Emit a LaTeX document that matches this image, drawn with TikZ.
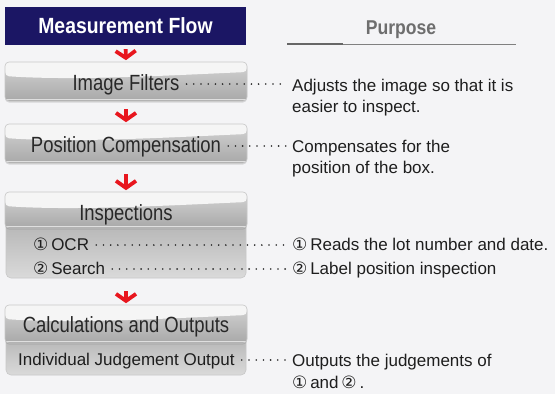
\documentclass[tikz,border=0pt]{standalone}
\usepackage{fontspec}
\setmainfont{Liberation Sans}
\newfontfamily\condfont[FakeStretch=0.84]{Liberation Sans}
\newfontfamily\hdrfont[FakeStretch=0.88]{Liberation Sans}
\newfontfamily\circfont{DejaVu Sans}
\newcommand\circA{{\circfont ①}}
\newcommand\circB{{\circfont ②}}
\usetikzlibrary{arrows.meta,shadows}
\definecolor{hdrblue}{RGB}{27,22,100}
\definecolor{bgcol}{RGB}{244,244,246}
\definecolor{boxtop}{RGB}{212,212,212}
\definecolor{boxbot}{RGB}{168,168,168}
\definecolor{hlcol}{RGB}{245,245,245}
\definecolor{boxedge}{RGB}{200,200,200}
\definecolor{extop}{RGB}{180,180,180}
\definecolor{exbot}{RGB}{218,218,218}
\definecolor{dotcol}{RGB}{40,40,40}
\definecolor{txtcol}{RGB}{30,30,30}
\definecolor{titlecol}{RGB}{40,40,40}
\definecolor{purcol}{RGB}{110,110,110}
\definecolor{arrowred}{RGB}{232,22,30}
\begin{document}
\begin{tikzpicture}[x=1pt,y=-1pt,
  hdrbox/.style={fill=hdrblue, minimum width=241pt, minimum height=38pt, inner sep=0pt,
    text=white, font=\hdrfont\bfseries\fontsize{22}{26}\selectfont},
  glossbox/.style={rounded corners=4pt, minimum width=242pt, minimum height=#1, inner sep=0pt,
    draw=boxedge, line width=0.6pt, top color=boxtop, bottom color=boxbot,
    drop shadow={shadow xshift=0pt, shadow yshift=-1.5pt, opacity=0.25},
    path picture={
      \fill[hlcol] (path picture bounding box.north west)
        -- ([yshift=-14pt]path picture bounding box.north west)
        .. controls +(70pt,-5pt) and +(-70pt,-3pt) ..
        ([yshift=-10pt]path picture bounding box.north east)
        -- (path picture bounding box.north east) -- cycle;
      \draw[white!75!gray, line width=1pt]
        ([yshift=1.5pt]path picture bounding box.south west) --
        ([yshift=1.5pt]path picture bounding box.south east);
    }},
  extbox/.style={rounded corners=5pt, minimum width=240pt, minimum height=#1, inner sep=0pt,
    draw=boxedge, line width=0.6pt, top color=extop, bottom color=exbot},
  titletext/.style={anchor=base, inner sep=0pt, text=titlecol,
    font=\condfont\fontsize{22}{26}\selectfont},
  subtext/.style={anchor=base west, inner sep=0pt, text=txtcol,
    font=\fontsize{17}{21}\selectfont},
  righttext/.style={anchor=base west, inner sep=0pt, text=txtcol,
    font=\fontsize{17}{21}\selectfont},
  dotline/.style={draw=dotcol, line width=1.8pt, line cap=round,
    dash pattern=on 0pt off 7.2pt, shorten <=7pt, shorten >=6pt},
  redarrow/.style={draw=arrowred, line width=3.8pt,
    -{Straight Barb[length=7pt,width=20pt,line width=3.8pt]}, shorten >=1.5pt}
]
\fill[bgcol] (0,0) rectangle (555,394);
\useasboundingbox (0,0) rectangle (555,394);

% header
\node[hdrbox] (hdr) at (125.5,26) {Measurement Flow};
\node[anchor=base, inner sep=0pt, text=purcol,
  font=\hdrfont\bfseries\fontsize{20}{24}\selectfont] (pur) at (401,34) {Purpose};
\coordinate (ul1) at (287,44);
\coordinate (ul2) at (343,44);
\coordinate (ul3) at (516,44);
\draw[gray!80!black, line width=1.6pt] (ul1) -- (ul2);
\draw[gray, line width=0.9pt] (ul2) -- (ul3);

% extensions (drawn first, under header boxes)
\node[extbox=58pt] (insx) at (126,249) {};
\node[extbox=40pt] (calx) at (126,355) {};

% boxes
\node[glossbox=39pt] (b1) at (126,81.5) {};
\node[glossbox=39pt] (b2) at (126,143.5) {};
\node[glossbox=36pt] (b3) at (126,210) {};
\node[glossbox=38pt] (b4) at (126,324) {};

% titles
\node[titletext] (t1) at (126,90) {Image Filters};
\node[titletext] (t2) at (126,152) {Position Compensation};
\node[titletext] (t3) at (126,220) {Inspections};
\node[titletext] (t4) at (126,332) {Calculations and Outputs};

% sub texts
\node[subtext] (s1) at (33,250) {\circA\,OCR};
\node[subtext] (s2) at (33,274) {\circB\,Search};
\node[subtext] (s3) at (18,365) {Individual Judgement Output};

% right texts
\node[righttext] (r1a) at (292,91) {Adjusts the image so that it is};
\node[righttext] (r1b) at (292,112) {easier to inspect.};
\node[righttext] (r2a) at (292,152) {Compensates for the};
\node[righttext] (r2b) at (292,173) {position of the box.};
\node[righttext] (r3) at (292,250) {\circA\,Reads the lot number and date.};
\node[righttext] (r4) at (292,274) {\circB\,Label position inspection};
\node[righttext] (r5a) at (292,366) {Outputs the judgements of};
\node[righttext] (r5b) at (292,388) {\circA\,and\,\circB\,.};

% arrows
\draw[redarrow, shorten <=4pt] (hdr.south) -- (b1.north);
\draw[redarrow, shorten <=8pt] (b1.south) -- (b2.north);
\draw[redarrow, shorten <=11pt] (b2.south) -- (b3.north);
\draw[redarrow, shorten <=13pt] (insx.south) -- (b4.north);

% dotted leaders
\draw[dotline] ([yshift=6pt]t1.base east) -- ([yshift=6pt]t1.base east -| r1a.west);
\draw[dotline] ([yshift=6pt]t2.base east) -- ([yshift=6pt]t2.base east -| r2a.west);
\draw[dotline] ([yshift=5pt]s1.base east) -- ([yshift=5pt]s1.base east -| r3.west);
\draw[dotline] ([yshift=5pt]s2.base east) -- ([yshift=5pt]s2.base east -| r4.west);
\draw[dotline] ([yshift=5pt]s3.base east) -- ([yshift=5pt]s3.base east -| r5a.west);
\end{tikzpicture}
\end{document}
